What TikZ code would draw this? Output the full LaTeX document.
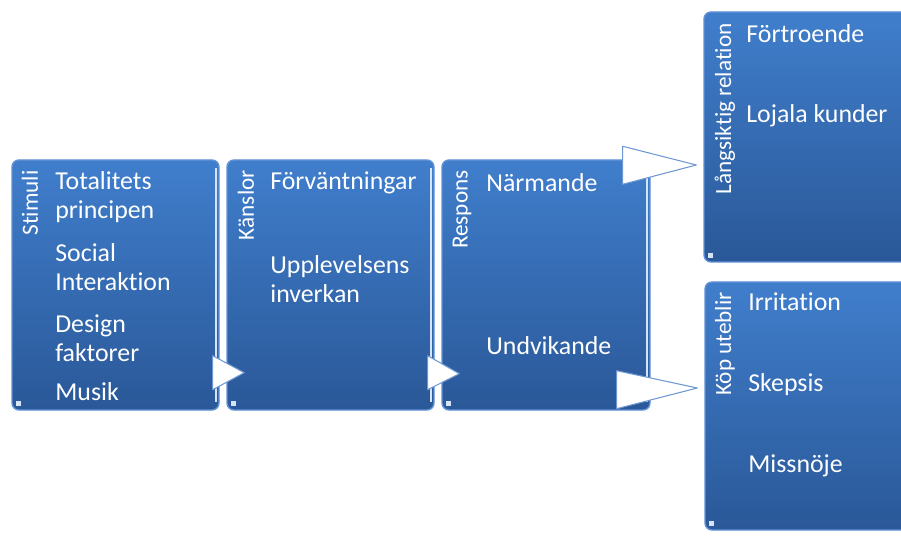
\documentclass[tikz,border=0pt]{standalone}
\usepackage{fontspec}
\setmainfont{Carlito}[Ligatures={NoCommon}]
\usetikzlibrary{calc}
\definecolor{boxtop}{RGB}{64,126,204}
\definecolor{boxbottom}{RGB}{42,88,152}
\definecolor{boxedge}{RGB}{96,146,214}
\definecolor{triedge}{RGB}{110,152,210}
\colorlet{stripecol}{white!75!boxedge}

\tikzset{
  stepbox/.style={rectangle, rounded corners=0.14cm, draw=boxedge, line width=0.8pt,
    top color=boxtop, bottom color=boxbottom, minimum width=4.14cm, minimum height=5cm},
  boxtitle/.style={rotate=90, anchor=east, inner sep=0pt, text=white,
    font=\fontsize{13.2}{15}\selectfont},
  item/.style={anchor=west, inner sep=0pt, align=left, text=white,
    font=\fontsize{14.7}{16.5}\selectfont},
  tri/.style={fill=white, draw=triedge, line width=0.6pt, line join=round},
  stripe/.style={draw=stripecol, line width=1.2pt},
  dot/.style={fill=stripecol}
}

\begin{document}
\begin{tikzpicture}
    \useasboundingbox (0,0) rectangle (18.02,10.94);

    % Boxes
    \node[stepbox] (stim) at (2.31, 5.24) {};
    \node[stepbox] (kansl) at (6.61, 5.24) {};
    \node[stepbox, minimum width=4.16cm] (resp) at (10.92, 5.24) {};
    \node[stepbox, minimum width=4.12cm] (lang) at (16.14, 8.2) {};
    \node[stepbox, minimum width=4.12cm, minimum height=4.96cm] (kop) at (16.16, 2.82) {};

    \foreach \b in {stim, kansl, resp}
      \draw[stripe] ($(\b.north east)+(-0.07,-0.18)$) -- ($(\b.south east)+(-0.07,0.18)$);
    \foreach \b in {stim, kansl, resp, lang, kop}
      \fill[dot] ($(\b.south west)+(0.1,0.1)$) rectangle +(0.1,0.1);

    % Titles
    \node[boxtitle] (stimT) at (0.6, 7.54) {Stimuli};
    \node[boxtitle] (kanslT) at (4.92, 7.54) {Känslor};
    \node[boxtitle] (respT) at (9.24, 7.54) {Respons};
    \node[boxtitle] (langT) at (14.5, 10.48) {Långsiktig relation};
    \node[boxtitle] (kopT) at (14.5, 5.1) {Köp uteblir};

    % Items
    \node[item] (totalitet) at (1.1, 6.99) {Totalitets\\principen};
    \node[item] (social) at (1.1, 5.6) {Social\\Interaktion};
    \node[item] (design) at (1.1, 4.18) {Design\\faktorer};
    \node[item] (musik) at (1.1, 3.1) {Musik};

    \node[item] (forvant) at (5.4, 7.28) {Förväntningar};
    \node[item] (upplev) at (5.4, 5.35) {Upplevelsens\\inverkan};

    \node[item] (narm) at (9.72, 7.28) {Närmande};
    \node[item] (undvik) at (9.72, 4.02) {Undvikande};

    \node[item] (fortro) at (14.92, 10.26) {Förtroende};
    \node[item] (lojal) at (14.92, 8.62) {Lojala kunder};

    \node[item] (irrit) at (14.96, 4.9) {Irritation};
    \node[item] (skeps) at (14.96, 3.24) {Skepsis};
    \node[item] (missn) at (14.96, 1.62) {Missnöje};

    % Arrows between boxes
    \coordinate (tipA) at ($(kansl.south west)+(0.36,0.76)$);
    \draw[tri] ($(stim.south east)+(-0.14,1.1)$) -- (tipA) -- ($(stim.south east)+(-0.14,0.42)$) -- cycle;

    \coordinate (tipB) at ($(resp.south west)+(0.36,0.74)$);
    \draw[tri] ($(kansl.south east)+(-0.14,1.1)$) -- (tipB) -- ($(kansl.south east)+(-0.14,0.42)$) -- cycle;

    \coordinate (tipC) at ($(lang.west)+(-0.14,-0.56)$);
    \draw[tri] ($(resp.north east)+(-0.56,0.26)$) -- (tipC) -- ($(resp.north east)+(-0.56,-0.5)$) -- cycle;

    \coordinate (tipD) at ($(kop.west)+(-0.14,0.36)$);
    \draw[tri] ($(resp.south east)+(-0.68,0.8)$) -- (tipD) -- ($(resp.south east)+(-0.68,0.04)$) -- cycle;
\end{tikzpicture}
\end{document}
